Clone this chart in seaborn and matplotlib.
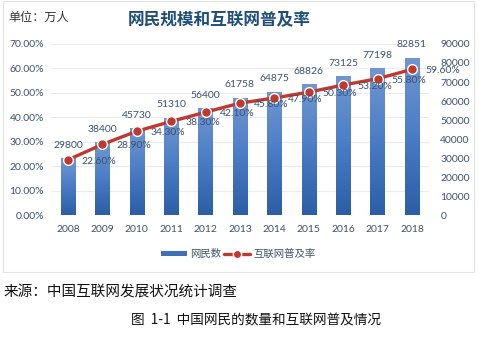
import numpy as np
import pandas as pd
import matplotlib
matplotlib.use("Agg")
import matplotlib.pyplot as plt
import seaborn as sns
from matplotlib.patches import Patch, Rectangle
from matplotlib.lines import Line2D
from matplotlib.colors import LinearSegmentedColormap

years = ["2008", "2009", "2010", "2011", "2012", "2013", "2014", "2015", "2016", "2017", "2018"]
users = [29800, 38400, 45730, 51310, 56400, 61758, 64875, 68826, 73125, 77198, 82851]
rate = [22.6, 28.9, 34.3, 38.3, 42.1, 45.8, 47.9, 50.3, 53.2, 55.8, 59.6]
pct_ticks = [0, 10, 20, 30, 40, 50, 60, 70]
user_ticks = [0, 10000, 20000, 30000, 40000, 50000, 60000, 70000, 80000, 90000]

sns.set_theme(style="white")
plt.rcParams['font.family'] = ['Lato', 'Noto Sans CJK SC', 'DejaVu Sans']
CJK = ['Noto Sans CJK SC', 'DejaVu Sans']

TXT = '#3d5272'
RED = '#c0392f'

df = pd.DataFrame({"year": years, "users": users, "rate": rate, "idx": np.arange(len(years))})

fig = plt.figure(figsize=(4.79, 3.40), dpi=100)
axb = fig.add_axes([0.106, 0.3676, 0.790, 0.503])

sns.barplot(data=df, x="year", y="users", ax=axb, width=0.42, color='#4a78c0', zorder=2)

# gradient fill on bars
grad = np.linspace(0, 1, 256).reshape(-1, 1)
cmap = LinearSegmentedColormap.from_list("b", ['#2c5ea6', '#4a7cc6', '#7097d0'])
for p in list(axb.patches):
    x0, y0 = p.get_x(), p.get_y()
    w, h = p.get_width(), p.get_height()
    im = axb.imshow(grad, cmap=cmap, aspect='auto', origin='lower',
                    extent=[x0, x0 + w, y0, y0 + h], zorder=2)
    im.set_clip_path(p)
    p.set_facecolor('none')
    p.set_edgecolor('none')
axb.set_xlim(-0.5, len(years) - 0.5)
axb.set_ylim(0, 90000)

# faint gridlines at percentage ticks
for t in pct_ticks[1:]:
    axb.axhline(t / 70 * 90000, color='#ececec', lw=0.8, zorder=1)

axb.set_xlabel("")
axb.set_ylabel("")
for s in axb.spines.values():
    s.set_visible(False)

for i, v in enumerate(users):
    axb.annotate(str(v), (i, v), xytext=(0, 6), textcoords='offset points',
                 ha='center', va='bottom', fontsize=7.5, color=TXT)

axl = axb.twinx()
sns.lineplot(data=df, x="idx", y="rate", ax=axl, color=RED, lw=2.4,
             marker='o', markersize=7, markerfacecolor=RED,
             markeredgecolor='white', markeredgewidth=1.0)
axl.set_ylim(0, 70)
axl.set_xlim(-0.5, len(years) - 0.5)
axl.yaxis.tick_left()
axl.set_yticks(pct_ticks)
axl.set_yticklabels([f"{t:.2f}%" for t in pct_ticks])
axl.tick_params(axis='y', length=0, pad=5, labelsize=7.5, labelcolor=TXT)
axl.set_xlabel("")
axl.set_ylabel("")
for s in axl.spines.values():
    s.set_visible(False)
for i, r in enumerate(rate):
    axl.annotate(f"{r:.2f}%", (i, r), xytext=(10, -1), textcoords='offset points',
                 ha='left', va='center', fontsize=7.5, color=TXT)

# right axis for user counts (after twinx, which resets the original to the left)
axb.yaxis.tick_right()
axb.set_yticks(user_ticks)
axb.set_yticklabels([str(v) for v in user_ticks])
axb.tick_params(axis='y', length=0, pad=8, labelsize=7.5, labelcolor=TXT,
                left=False, labelleft=False, right=False, labelright=True)
axb.tick_params(axis='x', length=0, pad=7, labelsize=7.5, labelcolor=TXT)
axb.set_xticks(range(len(years)))
axb.set_xticklabels(years)
axl.tick_params(axis='x', bottom=False, labelbottom=False)

fig.text(0.017, 0.948, "单位：万人", fontsize=8.7, color='#333333', va='center', family=CJK)
fig.text(0.457, 0.94, "网民规模和互联网普及率", fontsize=12, color='#1f4e79',
         fontweight='bold', ha='center', va='center', family=CJK)

handles = [Patch(facecolor='#3f6fb8', edgecolor='none'),
           Line2D([0], [0], color=RED, lw=2.4, marker='o', markersize=6,
                  markerfacecolor=RED, markeredgecolor='white')]
leg = fig.legend(handles, ["网民数", "互联网普及率"], loc='center',
                 bbox_to_anchor=(0.497, 0.253), ncol=2, frameon=False,
                 handlelength=2.5, handleheight=0.45,
                 columnspacing=0.3, handletextpad=0.3,
                 prop={'family': CJK, 'size': 7.5})
for t in leg.get_texts():
    t.set_color('#44546a')

fig.patches.append(Rectangle((0.006, 1 - 272 / 340), 0.984, 272 / 340 - 0.003,
                             transform=fig.transFigure, fill=False,
                             edgecolor='#e3e3e3', lw=0.8))

fig.text(0.008, 0.14, "来源：中国互联网发展状况统计调查", fontsize=10.5, color='#111111',
         va='center', family=CJK)
fig.text(0.534, 0.056, "图  1-1  中国网民的数量和互联网普及情况", fontsize=9.8, color='#111111',
         va='center', ha='center', family=CJK)

fig.savefig("out.png", dpi=100)
